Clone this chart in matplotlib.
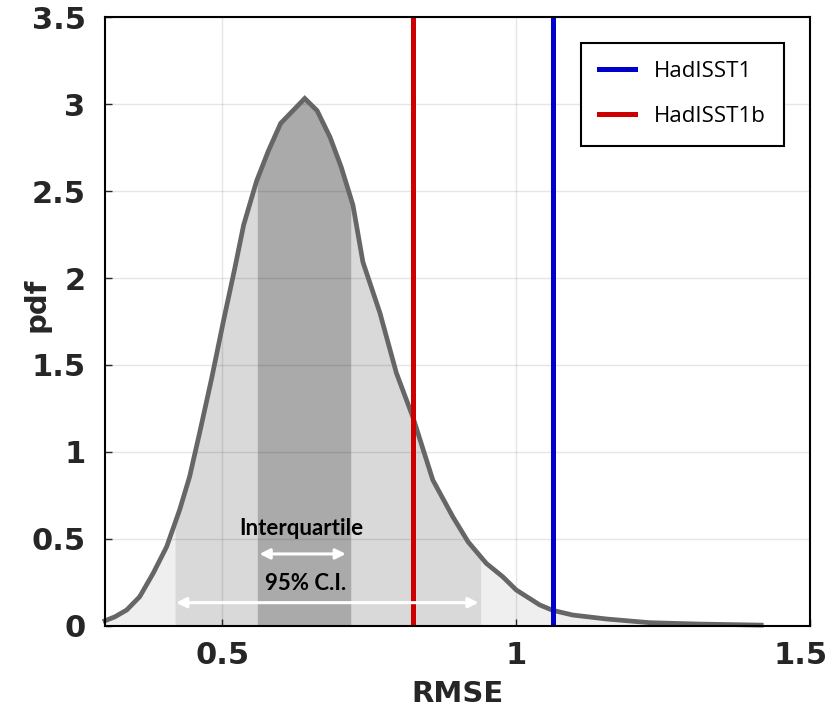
import numpy as np
import matplotlib
matplotlib.use("Agg")
import matplotlib.pyplot as plt
import matplotlib.transforms as mtransforms
from matplotlib.lines import Line2D
from matplotlib.ticker import FuncFormatter

# Sampling distribution of RMSE (piecewise-linear pdf)
rmse = [0.300, 0.317, 0.337, 0.359, 0.382, 0.405, 0.427, 0.444, 0.461, 0.482,
        0.502, 0.521, 0.536, 0.558, 0.578, 0.599, 0.640, 0.661, 0.683, 0.702,
        0.722, 0.739, 0.768, 0.796, 0.824, 0.858, 0.892, 0.918, 0.949, 0.977,
        1.000, 1.040, 1.062, 1.096, 1.154, 1.227, 1.312, 1.417]
pdf = [0.030, 0.053, 0.092, 0.168, 0.303, 0.456, 0.667, 0.858, 1.109, 1.431,
       1.759, 2.057, 2.305, 2.557, 2.730, 2.889, 3.032, 2.962, 2.810, 2.638,
       2.420, 2.092, 1.799, 1.454, 1.201, 0.839, 0.628, 0.484, 0.360, 0.283,
       0.207, 0.121, 0.090, 0.063, 0.040, 0.019, 0.011, 0.005]

# Distribution summary
ci95 = [0.419, 0.940]
iqr = [0.559, 0.719]

# Observed RMSE of each dataset
datasets = ["HadISST1", "HadISST1b"]
dataset_rmse = [1.063, 0.824]
dataset_colors = ["#0000cc", "#cc0000"]

x_ticks = [0.5, 1.0, 1.5]
y_ticks = [0, 0.5, 1, 1.5, 2, 2.5, 3, 3.5]

x = np.asarray(rmse)
y = np.asarray(pdf)


def band(lo, hi):
    """Curve vertices restricted to [lo, hi], with exact end points."""
    inside = (x > lo) & (x < hi)
    bx = np.concatenate([[lo], x[inside], [hi]])
    by = np.concatenate([[np.interp(lo, x, y)], y[inside], [np.interp(hi, x, y)]])
    return bx, by


fig = plt.figure(figsize=(8.34, 7.15), dpi=100)
ax = fig.add_axes([0.1259, 0.1245, 0.8453, 0.8517])

tail_col, mid_col, iqr_col = "#efefef", "#d9d9d9", "#aaaaaa"
for (lo, hi), col in [((x[0], ci95[0]), tail_col),
                      ((ci95[0], iqr[0]), mid_col),
                      ((iqr[0], iqr[1]), iqr_col),
                      ((iqr[1], ci95[1]), mid_col),
                      ((ci95[1], x[-1]), tail_col)]:
    bx, by = band(lo, hi)
    ax.fill_between(bx, 0, by, color=col, lw=0, zorder=1)

ax.plot(x, y, color="#666666", lw=3.4, solid_joinstyle="miter", zorder=3,
        clip_on=False)

handles = []
for name, val, col in zip(datasets, dataset_rmse, dataset_colors):
    ax.axvline(val, color=col, lw=3.6, zorder=4)
    handles.append(Line2D([], [], color=col, lw=3.6, label=name))

# Interquartile and 95% range arrows
arrow_kw = dict(arrowstyle="<|-|>,head_length=0.6,head_width=0.3",
                color="white", lw=2.2, shrinkA=0, shrinkB=0)
ax.annotate("", xy=(iqr[0] + 0.004, 0.414), xytext=(iqr[1] - 0.009, 0.414),
            arrowprops=arrow_kw, zorder=5)
ax.annotate("", xy=(ci95[0] + 0.002, 0.134), xytext=(ci95[1] - 0.004, 0.134),
            arrowprops=arrow_kw, zorder=5)
ax.text(0.634, 0.563, "Interquartile", ha="center", va="center",
        fontsize=16, fontweight="bold", family="Lato", color="black", zorder=6)
ax.text(0.642, 0.245, "95% C.I.", ha="center", va="center",
        fontsize=16, fontweight="bold", family="Lato", color="black", zorder=6)

ax.set_xlim(0.3, 1.5)
ax.set_ylim(0, 3.5)
ax.set_xticks(x_ticks)
ax.set_yticks(y_ticks)
fmt = FuncFormatter(lambda v, p: f"{v:g}")
ax.xaxis.set_major_formatter(fmt)
ax.yaxis.set_major_formatter(fmt)

ax.grid(True, color="black", alpha=0.1, lw=1.0, zorder=2)
ax.tick_params(direction="in", length=5, width=1, colors="#262626",
               labelsize=22)
ax.tick_params(axis="y", pad=14)
ax.tick_params(axis="x", pad=11)
for lab in ax.get_xticklabels() + ax.get_yticklabels():
    lab.set_fontweight("bold")
# keep the last x tick label inside the figure
last = ax.get_xticklabels()[-1]
last.set_transform(last.get_transform() +
                   mtransforms.ScaledTranslation(-9 / 100, 0, fig.dpi_scale_trans))

for sp in ax.spines.values():
    sp.set_color("black")
    sp.set_linewidth(1.5)
    sp.set_zorder(7)

ax.set_xlabel("RMSE", fontsize=21, fontweight="bold", color="#262626", labelpad=7)
ax.set_ylabel("pdf", fontsize=21, fontweight="bold", color="#262626")
ax.yaxis.set_label_coords(-0.0965, 0.528)
ax.yaxis.label.set_verticalalignment("center")

leg = ax.legend(handles=handles, loc="upper left", bbox_to_anchor=(0.675, 0.958),
                prop={"family": "Open Sans", "size": 16}, frameon=True,
                fancybox=False, edgecolor="black", framealpha=1,
                handlelength=1.6, handletextpad=0.85, borderpad=0.83,
                labelspacing=1.09, borderaxespad=0)
leg.get_frame().set_linewidth(1.5)
leg.set_zorder(8)

fig.savefig("out.png", dpi=100)
